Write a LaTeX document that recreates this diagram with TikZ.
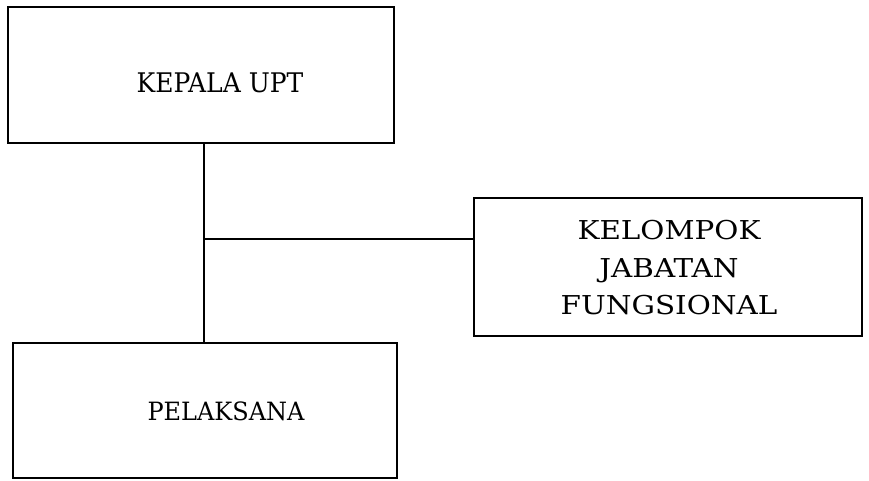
\documentclass[tikz,border=0pt]{standalone}
\usepackage{fontspec}
\setmainfont{DejaVu Serif}
\begin{document}
\begin{tikzpicture}[x=1pt,y=-1pt,
  box/.style={draw=black,line width=2pt,rectangle,inner sep=0pt},
  lbl/.style={align=center,inner sep=0pt,text=black},
  conn/.style={draw=black,line width=1.6pt}]
\useasboundingbox (0,0) rectangle (869,480);
\node[box,minimum width=386pt,minimum height=136pt] (kepala) at (201,75) {};
\node[box,minimum width=384pt,minimum height=135pt] (pelaksana) at (205,410.5) {};
\node[box,minimum width=388pt,minimum height=138pt] (kelompok) at (668,267) {};
\node[lbl,font=\fontsize{25}{30}\selectfont,yscale=1.08] (tk) at (220,83) {KEPALA UPT};
\node[lbl,font=\fontsize{24}{30}\selectfont,yscale=1.05] (tp) at (226,411) {PELAKSANA};
\node[lbl,font=\fontsize{26}{37.5}\selectfont,xscale=1.13] (tj) at (669,268) {KELOMPOK\\JABATAN\\FUNGSIONAL};
\coordinate (top) at (kepala.south -| 204,0);
\coordinate (bot) at (pelaksana.north -| 204,0);
\coordinate (j) at (204,239);
\draw[conn] (top) -- (bot);
\draw[conn] (j) -- (kelompok.west |- j);
\end{tikzpicture}
\end{document}
